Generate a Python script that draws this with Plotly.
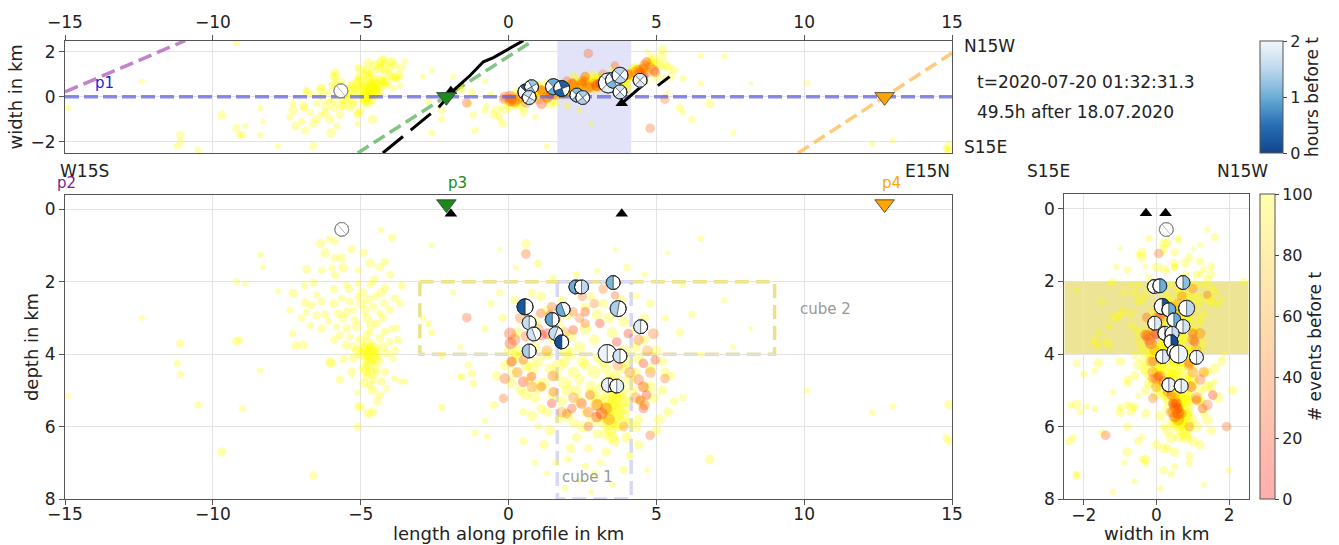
import numpy as np
import plotly.graph_objects as go

W_PX, H_PX = 1339, 545
FONT = "DejaVu Sans"

# ---------------- data ----------------
# western cluster: length along profile, depth, width, marker size
west_len = [-6.35,-6.06,-5.87,-5.87,-5.64,-6.83,-6.32,-5.98,-5.87,-5.59,
            -5.08,-4.68,-4.35,-4.18,-3.93,-4.31,-6.60,-5.47,-5.08,-4.68,
            -4.18,-7.28,-6.88,-6.66,-6.49,-6.32,-5.64,-5.36,-5.08,-4.85,
            -4.57,-4.35,-4.01,-3.67,-3.84,-7.39,-6.83,-6.49,-6.09,-5.76,
            -5.47,-5.25,-4.80,-4.46,-6.71,-6.32,-5.81,-5.47,-5.13,-4.68,
            -4.18,-3.78,-7.30,-5.70,-5.36,-5.02,-4.80,-4.35,-4.01,-3.73,
            -6.94,-5.25]
west_dep = [0.94,0.82,0.88,1.34,1.34,1.65,1.68,1.61,1.81,1.61,
            1.68,1.49,1.59,1.45,0.78,0.57,2.02,2.09,2.04,2.07,
            2.17,2.32,2.57,2.64,2.37,2.55,2.46,2.55,2.41,2.78,
            2.69,2.87,2.78,2.60,2.46,2.78,2.83,2.92,3.09,2.87,
            2.83,2.78,3.01,3.15,3.20,3.29,3.24,3.29,3.24,3.38,
            3.38,3.27,3.43,3.47,3.52,3.61,3.47,3.56,3.66,3.61,
            3.75,3.80]
west_wid = [0.3,-0.2,0.6,0.9,-0.4,0.2,-0.8,0.5,1.1,0.0,
            1.3,0.8,1.5,1.2,1.6,1.4,-1.2,0.4,0.9,1.1,
            1.5,-0.6,-1.5,0.1,-0.3,0.4,0.7,-0.5,0.8,1.0,
            0.6,1.3,1.0,0.9,1.4,-0.9,0.3,-1.0,0.2,0.5,
            -0.1,0.6,0.9,1.2,-0.7,0.0,-1.3,0.3,0.6,1.0,
            1.1,0.8,-0.3,0.2,0.5,0.7,1.2,0.8,1.3,1.0,
            -0.4,0.4]
west_size = [8,6,6,7,8,7,6,6,7,8, 6,8,7,7,7,5,7,6,6,6,
             7,8,7,7,6,7,6,7,6,8, 7,6,7,6,7,6,6,7,6,7,
             7,6,8,7,6,7,6,7,8,6, 7,6,6,7,6,8,7,7,6,7, 8,7]

# western cluster, second batch
west2_len = [-5.9,-5.4,-4.95,-4.5,-6.2,-5.6,-5.2,-4.65,-4.25,-3.95,
             -5.9,-5.5,-5.1,-4.95,-4.75,-4.55,-4.4,-4.25,-4.7,-4.85,
             -5.3,-4.55,-4.3,-4.9,-4.6,-4.45,-5.7,-6.2,-5.3,-4.9,
             -4.55,-4.3,-4.0,-3.6,-6.9,-7.0,-5.9,-5.0,-4.75,-4.2]
west2_dep = [2.2,2.2,2.3,2.4,2.9,3.0,3.05,3.2,3.0,3.3,
             3.6,3.75,3.9,4.0,3.7,3.85,4.2,3.8,4.3,4.45,
             4.5,4.55,4.75,4.8,5.0,5.3,4.7,1.2,1.1,1.2,
             1.95,2.3,1.8,2.1,2.1,3.0,2.6,2.6,2.5,2.6]
west2_wid = [-0.2,0.1,0.6,0.8,-0.7,-0.1,0.3,0.5,0.7,0.9,
             -0.5,0.1,0.3,0.2,0.4,0.6,0.5,0.7,0.1,0.0,
             -0.3,0.4,0.5,-0.1,0.1,0.3,-0.8,-0.4,0.2,0.5,
             1.4,1.6,1.5,1.3,-0.5,-1.1,0.9,1.2,1.5,1.7]
west2_size = [7,7,8,7,7,8,7,8,7,6, 7,8,9,10,10,10,9,8,10,9,
              8,8,7,8,8,7,7,8,7,7, 8,8,7,7,6,6,8,8,8,7]

# western core and deeper part
wcore_len = [-4.80,-4.68,-4.57,-4.74,-4.63,-4.85,-4.52,-4.68,-4.46,-4.91,
             -4.63,-4.80,-6.04,-5.59,-5.25,-4.12,-3.90,-3.84,-4.91,-4.68,
             -4.46,-4.18,-4.80,-4.57,-4.68,-4.12,-4.35,-5.08,-4.74,-3.84,-3.67]
wcore_dep = [3.82,3.89,3.94,4.03,4.07,3.96,4.12,4.21,4.01,3.86,
             3.80,4.16,4.21,4.14,4.10,3.98,4.12,3.89,4.39,4.49,
             4.44,4.49,4.62,4.72,4.85,4.95,5.13,5.45,5.64,4.67,4.76]
wcore_wid = [0.1,0.3,0.5,0.0,0.4,-0.2,0.2,0.6,0.1,0.4,
             -0.1,0.2,-1.0,-0.4,-0.2,0.7,0.4,0.9,-0.1,0.1,
             0.4,0.6,-0.2,0.3,0.0,0.5,0.2,-0.7,-0.3,0.8,0.5]
wcore_size = [9,9,9,9,9,9,9,9,9,9, 9,9,8,7,8,8,6,7,8,9,
              7,7,7,6,7,6,7,7,8,6,5]

# scattered far events
far_len = [-11.1,-11.2,-11.1,-9.2,-9.1,-10.5,-9.0,-9.7,-6.6,-8.4,
           -7.2,-6.0,-5.1,-5.0,-4.6,-5.1,-14.9,-12.4,-9.2,-8.9,
           -7.8,-8.3,-8.4,-3.5,-2.26,-2.26,-1.64,-1.36,-1.24,-1.19,
           -1.13,-0.79,-0.74,-1.58,-2.60,-1.87,-2.71,-1.64,12.3,13.0,
           14.9,14.8,14.9,10.1,6.8,5.9,6.5]
far_dep = [3.7,4.25,4.55,3.65,3.6,5.4,5.5,6.7,7.35,4.45,
           3.75,4.25,5.05,5.45,5.6,6.0,5.15,3.0,2.0,2.05,
           2.25,1.6,1.25,4.75,4.03,5.47,3.80,4.30,4.53,4.81,
           6.17,5.84,6.28,4.62,0.99,2.28,3.15,4.62,5.6,5.45,
           5.4,6.3,6.4,5.0,6.9,5.2,4.0]
far_wid = [-1.7,-2.2,-2.0,-1.4,-1.7,-2.37,-1.7,-0.81,-2.2,-1.7,
           -1.3,-1.6,-1.2,-0.6,-1.0,-0.8,-0.5,0.67,2.4,-1.3,
           -2.2,-1.1,-0.5,1.6,-0.6,-1.0,0.5,-0.3,0.2,-0.8,
           -1.5,0.7,-0.4,0.3,1.2,0.9,-0.2,0.4,-2.1,-1.93,
           -2.2,-2.3,-2.4,0.6,-0.3,0.82,1.85]
far_size = [7,6,6,7,6,6,6,8,7,5, 7,8,5,7,8,7,5,5,6,5,
            5,5,5,5,6,6,5,6,7,6, 6,5,5,6,5,5,6,5,5,5,
            8,6,7,5,8,6,5]

# central swarm (older events, # events before t >= 100)
cen_len = [0.59,0.25,1.0,1.5,2.3,3.0,3.6,4.0,4.6,5.4,
           6.5,-0.3,5.9,-0.3,-0.6,-0.2,0.2,0.3,0.8,1.8,
           2.2,2.8,3.2,3.4,2.9,2.4,3.9,4.3,4.8,5.3,
           5.8,6.2,7.3,7.6,8.2,-0.8,-2.6,-2.9,1.9,4.3,
           4.6,5.0,-0.1,0.2,0.6,1.0,1.4,1.9,2.2,2.6,
           3.0,3.3,3.6,3.9,4.3,4.8,5.2,5.5,0.4,0.9,
           1.3,1.8,2.3,2.6,3.0,3.2,3.4,3.5,3.6,3.7,
           3.4,3.5,3.8,3.3,3.6,3.7,3.9,3.45,3.7,3.2,
           4.2,4.4,4.9,5.2,5.1,0.5,1.0,2.3,2.7,3.0,
           3.6,4.0,4.4,2.0,2.6,3.1,3.9,2.4,3.5,1.9,
           0.9,4.7,1.3,2.8,0.7,1.2,1.6,1.1,1.7,2.0,
           2.4,2.8,2.9,2.2,0.2,0.9,1.5,4.6,4.1,5.6]
cen_dep = [0.95,1.6,1.5,1.9,1.8,1.7,1.1,1.6,1.8,1.2,
           0.8,1.1,2.1,2.3,2.6,3.0,2.5,3.9,2.3,2.5,
           2.1,2.4,2.6,3.0,3.6,3.8,3.9,2.4,2.6,3.0,
           3.4,2.9,2.5,3.8,3.3,3.3,3.4,3.0,3.9,3.8,
           3.6,3.9,4.3,4.5,4.3,4.2,4.4,4.2,4.5,4.3,
           4.1,4.4,4.6,4.4,4.5,4.4,4.2,4.6,5.0,5.2,
           5.6,5.3,5.0,5.6,5.2,4.9,5.1,5.4,5.2,5.6,
           5.7,5.9,5.3,5.5,5.0,4.8,5.5,6.1,6.0,5.9,
           5.0,5.8,5.2,5.0,5.8,5.6,6.0,6.3,6.6,6.2,
           6.4,6.3,6.5,6.9,7.1,7.0,7.2,7.5,7.6,7.7,
           7.0,7.2,7.3,7.8,4.7,4.8,4.6,5.5,5.8,5.0,
           4.7,4.9,5.4,5.9,4.0,3.8,3.6,4.9,5.9,5.3]
cen_wid = [0.2,-0.3,0.5,-0.2,0.8,0.3,1.0,0.5,1.2,0.2,
           0.6,-1.0,-0.7,-0.9,0.1,-1.2,-0.4,0.2,0.6,0.3,
           0.9,1.0,0.5,0.8,0.4,0.3,0.9,1.2,1.5,0.8,
           -0.5,-1.0,1.8,-1.6,0.6,-0.6,-1.6,0.9,0.1,1.2,
           0.7,0.9,-0.5,0.0,0.2,0.5,-0.3,0.5,0.4,0.8,
           0.9,0.7,0.5,1.0,1.3,1.6,1.8,0.9,-0.3,0.3,
           0.6,0.5,0.6,0.9,0.6,0.8,0.5,0.7,0.9,0.6,
           0.8,0.7,0.8,0.6,0.6,1.0,0.5,0.7,0.9,0.5,
           1.2,1.0,1.7,2.1,1.4,-0.7,0.2,0.6,0.3,0.8,
           1.0,0.4,1.2,-0.4,0.5,0.9,0.2,-0.6,1.3,0.1,
           -0.9,2.0,-2.2,-1.2,0.1,0.2,0.4,0.3,0.6,0.4,
           0.5,0.7,0.6,0.4,-0.2,0.1,0.2,1.4,0.9,1.2]
cen_size = [8,5,7,6,6,5,4,6,5,4, 5,4,5,6,6,7,7,9,7,7,
            8,7,8,9,9,10,9,6,7,6, 7,6,5,5,4,6,6,5,10,9,
            8,9,9,9,10,9,9,9,10,9, 8,9,10,9,8,9,8,7,8,9,
            8,9,9,8,10,10,11,11,11,11, 11,10,11,10,10,10,10,10,9,9,
            9,8,9,8,9,7,6,8,7,8, 9,9,8,6,6,6,7,5,5,5,
            5,5,5,5,9,10,9,8,8,10, 9,10,9,8,8,9,8,9,8,7]

# central swarm, second batch
cen2_len = [0.3,0.8,1.3,1.7,2.1,2.5,2.9,3.2,4.0,4.4,
            0.1,0.6,1.0,1.5,1.9,2.4,2.8,3.1,3.4,3.8,
            4.1,4.5,0.8,1.4,2.0,2.5,2.9,3.3,3.6,3.8,
            3.5,3.3,3.6,3.4,3.7,3.55,3.9,3.2,4.0,3.5,
            4.3,1.2,2.1,3.3,4.1,2.9,1.6,0.5,5.0,5.4,
            0.3,0.9,1.3,1.7,2.1,2.6,3.0,3.5,3.9,4.3,
            4.6,2.0,1.1,2.6,3.8,4.8,5.3,0.0,-0.4,-0.5]
cen2_dep = [4.1,4.4,4.0,4.3,4.0,4.2,4.5,4.2,4.2,4.1,
            4.8,5.1,4.9,5.1,4.8,5.3,5.1,5.4,4.7,5.0,
            4.7,5.3,5.7,6.1,5.7,6.0,5.8,6.2,5.7,5.9,
            5.5,5.3,5.35,5.9,5.1,4.9,5.7,5.7,5.3,6.3,
            6.0,6.5,6.6,6.7,6.8,7.3,7.0,6.4,6.1,5.6,
            3.4,3.1,2.8,3.2,3.5,3.3,2.9,3.4,3.1,3.3,
            3.0,2.9,2.4,2.7,2.5,4.9,4.5,3.9,4.6,5.4]
cen2_wid = [-0.1,0.1,0.0,0.3,0.2,0.5,0.6,0.7,0.9,1.0,
            -0.2,0.0,0.2,0.3,0.4,0.5,0.6,0.6,0.8,0.7,
            1.0,1.2,0.1,0.3,0.5,0.6,0.7,0.8,0.7,0.6,
            0.8,0.7,0.6,0.7,0.8,0.9,0.8,0.6,0.9,0.8,
            1.1,0.0,0.2,0.5,0.9,0.4,-0.3,-0.5,1.5,1.3,
            -0.3,0.0,0.2,0.1,0.3,0.5,0.6,0.7,0.9,1.0,
            1.2,0.4,0.3,0.7,1.1,1.5,1.4,-0.4,-0.6,-0.8]
cen2_size = [10,11,10,11,10,10,11,10,10,9, 9,10,11,10,11,10,11,12,11,12,
             10,10,9,9,10,10,11,10,12,12, 12,12,12,11,12,11,11,11,10,10,
             9,8,8,8,7,6,6,7,8,8, 9,9,9,9,10,10,9,9,9,8,
             8,9,8,8,8,9,8,8,8,7]

# recent events (few events before t -> red/orange)
red_len = [0.05,0.07,1.09,1.46,1.40,1.31,1.12,2.19,2.59,2.19,
           2.59,3.09,3.60,3.66,4.05,4.90,4.96,4.56,5.29,4.56,
           4.67,4.45,4.56,4.79,3.15,2.98,2.76,2.47,2.14,1.46,
           1.97,1.52,-0.12,-0.17,0.50,0.50,1.12,0.78,0.11,-1.41,
           0.59,2.70,
           0.4,0.2,1.0,1.6,1.9,2.4,2.9,4.4,4.7,4.8,
           4.4,4.6,4.3,3.3,3.0,2.7,3.4,2.2,1.8,0.8,
           0.3,0.1,1.5,3.7,4.1,3.9,2.5,3.2,1.3,0.6]
red_dep = [3.43,3.70,2.87,2.69,2.92,3.43,3.47,2.83,2.83,3.33,
           3.15,3.15,2.37,3.66,3.43,3.43,4.16,4.25,4.67,4.90,
           5.13,5.27,5.50,6.24,5.64,5.73,5.13,5.36,5.50,5.36,
           5.64,5.04,4.67,5.22,4.16,4.76,4.90,4.62,4.21,2.99,
           1.23,6.0,
           3.0,3.6,3.3,3.0,3.4,3.0,2.6,3.6,3.9,4.5,
           4.7,5.4,5.2,5.5,5.4,5.6,5.8,5.2,5.6,4.9,
           4.5,4.2,4.6,4.3,4.5,6.0,2.4,2.2,3.9,3.5]
red_wid = [0.0,-0.15,0.3,0.4,0.1,0.0,-0.3,0.6,0.9,0.2,
           0.7,0.6,1.4,1.05,1.0,1.2,1.1,0.9,-0.1,0.95,
           1.55,1.1,1.27,-1.4,0.6,0.5,0.4,0.55,0.6,0.45,
           0.7,0.3,0.0,-0.1,0.1,0.2,0.3,0.05,-0.1,-0.27,
           0.06,1.93,
           0.0,-0.2,-0.1,0.1,0.2,0.4,0.6,1.0,1.1,1.3,
           1.2,1.4,1.1,0.55,0.5,0.45,0.6,0.5,0.4,0.0,
           -0.1,-0.15,0.1,0.9,1.0,0.9,0.7,1.0,-0.05,-0.25]
red_cnt = [25,20,30,35,15,12,18,40,20,15, 40,15,35,12,15,40,20,15,40,15,
           12,15,20,35,8,12,30,15,20,15, 35,35,35,40,30,15,30,18,25,30,
           35,35,
           45,35,50,40,55,45,50,40,55,45, 35,40,50,30,25,35,45,50,55,50,
           45,55,40,50,45,50,40,45,55,35]
red_size = [10,10,8,8,8,9,9,8,8,8, 8,8,7,8,8,9,8,8,8,9,
            8,8,8,8,10,9,8,9,8,8, 8,8,9,8,8,9,8,8,8,8, 8,8,
            9,10,9,9,9,8,8,9,9,9, 9,9,9,10,10,9,10,9,9,9,
            9,9,9,9,9,8,8,8,9,9]

# focal mechanisms: map view (length, width, radius px, hours before t, rotation deg)
map_bb_len = [0.59,0.78,0.70,1.52,1.80,2.31,2.51,3.38,3.55,3.77,3.77,4.45,-5.67]
map_bb_wid = [0.22,0.45,-0.03,0.45,0.37,0.08,-0.03,0.62,0.74,0.96,0.22,0.74,0.27]
map_bb_r = [8,7,7,8,8,7,7,10,8,8,7,7,7]
map_bb_hours = [0.25,1.3,1.6,1.0,0.3,1.2,1.4,1.9,1.1,1.5,1.7,1.8,5]
map_bb_rot = [45,30,60,45,20,45,40,45,30,50,45,45,130]

# cross section (length, depth)
sec_bb_len = [2.28,2.47,3.54,0.56,1.85,3.71,1.48,0.70,0.86,1.60,1.80,4.47,0.70,3.34,3.77,3.38,3.66,-5.64]
sec_bb_dep = [2.14,2.14,2.02,2.69,2.76,2.74,3.04,3.13,3.44,3.43,3.66,3.24,3.91,3.98,4.05,4.85,4.88,0.55]
sec_bb_r = [7,7,7,8,7,8,7,7,7,7,7,7,7,9,7,7,7,7]
sec_bb_hours = [1.0,1.5,1.1,0.2,1.0,1.4,0.9,1.6,1.7,1.6,0.1,1.8,1.4,1.95,1.7,1.9,1.9,5]
sec_bb_rot = [180,0,180,180,200,170,180,180,200,160,180,180,180,180,180,180,0,130]

# side view (width, depth)
side_bb_wid = [-0.06,0.09,0.73,0.16,0.34,0.83,-0.05,0.48,0.73,0.23,0.43,0.40,0.17,0.48,0.61,1.10,0.34,0.68,0.27]
side_bb_dep = [2.14,2.12,2.03,2.69,2.78,2.74,3.15,3.06,3.24,3.43,3.43,3.66,4.07,3.93,4.00,4.09,4.85,4.88,0.57]
side_bb_r = [7,7,7,8,7,8,7,7,7,7,7,7,7,7,9,7,7,7,7]
side_bb_hours = [1.6,1.0,1.2,0.2,1.0,1.5,1.8,1.0,1.7,1.8,1.6,0.1,1.8,1.5,1.95,1.9,1.9,1.9,5]
side_bb_rot = [0,0,0,0,0,0,0,0,0,0,0,0,0,0,0,0,0,0,130]

# stations
sta_len = [-2.1, 12.72]
sta_wid = [0.0, 0.0]
sta_dep = [-0.15, -0.15]
sta_col = ["#1a8a1a", "#ffa500"]
sta_name = ["p3", "p4"]
bsta_len = [-1.95, 3.83]
bsta_wid = [0.25, -0.29]
bsta_dep = [0.12, 0.12]

# profile labels (length along profile where the label sits)
prof_name = ["p2", "p3", "p4"]
prof_len = [-14.95, -1.74, 12.95]
prof_col = ["rgb(130,30,140)", "rgb(20,140,20)", "rgb(255,165,0)"]

# profile lines in map view
p1_len = [-15, 15]; p1_wid = [0, 0]
p2_len = [-15, -10.94]; p2_wid = [0.22, 2.5]
p3_len = [-5.1, 0.83]; p3_wid = [-2.5, 2.5]
p4_len = [9.79, 15]; p4_wid = [-2.5, 1.95]
# fault traces
fa_len = [-4.25, -2.35]; fa_wid = [-2.5, -0.45]
fb_len = [-2.35, -1.85, -1.3, -0.85, -0.51, 0.5]; fb_wid = [-0.45, 0.3, 0.95, 1.56, 1.75, 2.5]
fc_len = [3.83, 4.67]; fc_wid = [-0.29, 0.67]
fd_len = [5.05, 5.45]; fd_wid = [0.5, 0.9]

# cubes
cube1_len = [1.65, 4.15]; cube1_dep = [2, 8]
cube2_len = [-3.0, 9.0]; cube2_dep = [2, 4]

# ---------------- layout geometry ----------------
MAP_BOX = (65, 952, 40.7, 153)
SEC_BOX = (65, 952, 195, 499)
SIDE_BOX = (1064.3, 1248.7, 194.3, 499.3)
MAP_XR, MAP_YR = [-15, 15], [-2.5, 2.5]
SEC_XR, DEP_R = [-15, 15], [8, -0.4]
SIDE_XR = [-2.54, 2.54]
SIZE_FACTOR = 1.2


def xdom(b):
    return [b[0] / W_PX, b[1] / W_PX]


def ydom(b):
    return [1 - b[3] / H_PX, 1 - b[2] / H_PX]


def scale(box, xr, yr):
    sx = (box[1] - box[0]) / (xr[1] - xr[0])
    sy = (box[3] - box[2]) / (yr[1] - yr[0])
    return sx, sy


HOURS_STOPS = [(0.0, (16, 70, 140)), (0.25, (40, 110, 180)), (0.5, (107, 174, 214)),
               (0.75, (190, 215, 236)), (1.0, (242, 247, 252))]
HOURS_SCALE = [[s, "rgb(%d,%d,%d)" % c] for s, c in HOURS_STOPS]


def hours_color(h):
    t = min(max(h / 2.0, 0), 1)
    for (s0, c0), (s1, c1) in zip(HOURS_STOPS[:-1], HOURS_STOPS[1:]):
        if t <= s1:
            f = (t - s0) / (s1 - s0)
            c = [c0[i] + f * (c1[i] - c0[i]) for i in range(3)]
            return "rgb(%d,%d,%d)" % tuple(c)
    return "rgb(%d,%d,%d)" % HOURS_STOPS[-1][1]


EV_ALPHA = 0.45
EV_SCALE = [[0, "rgba(255,0,0,%.2f)" % EV_ALPHA], [1, "rgba(255,255,0,%.2f)" % EV_ALPHA]]
CB_SCALE = [[0, "rgba(255,0,0,0.32)"], [1, "rgba(255,255,0,0.32)"]]

fig = go.Figure()

old_len = west_len + west2_len + wcore_len + far_len + cen_len + cen2_len
old_dep = west_dep + west2_dep + wcore_dep + far_dep + cen_dep + cen2_dep
old_wid = west_wid + west2_wid + wcore_wid + far_wid + cen_wid + cen2_wid
old_size = west_size + west2_size + wcore_size + far_size + cen_size + cen2_size
ev_len = old_len + red_len
ev_dep = old_dep + red_dep
ev_wid = old_wid + red_wid
ev_size = [s * SIZE_FACTOR for s in old_size + red_size]
ev_cnt = [100] * len(old_len) + red_cnt


def add_line(x, y, xa, ya, color, width, dash=None):
    fig.add_trace(go.Scatter(x=x, y=y, xaxis=xa, yaxis=ya, mode="lines",
                             line=dict(color=color, width=width, dash=dash),
                             hoverinfo="skip", showlegend=False))


add_line(p2_len, p2_wid, "x", "y", "rgba(180,100,190,0.8)", 3.5, "14px,6px")
add_line(p3_len, p3_wid, "x", "y", "rgba(90,175,90,0.75)", 3.5, "13px,6px")
add_line(p4_len, p4_wid, "x", "y", "rgba(255,190,90,0.8)", 3.5, "13px,6px")

marker_ev = dict(color=ev_cnt, cmin=0, cmax=100, colorscale=EV_SCALE, line=dict(width=0))
fig.add_trace(go.Scatter(x=ev_len, y=ev_wid, xaxis="x", yaxis="y", mode="markers",
                         marker=dict(size=ev_size, **marker_ev), hoverinfo="skip", showlegend=False))
add_line(p1_len, p1_wid, "x", "y", "rgba(100,100,230,0.75)", 3.5, "14px,5px")
add_line(fa_len, fa_wid, "x", "y", "black", 3, "26px,10px")
add_line(fb_len, fb_wid, "x", "y", "black", 3)
add_line(fc_len, fc_wid, "x", "y", "black", 3)
add_line(fd_len, fd_wid, "x", "y", "black", 3)

fig.add_trace(go.Scatter(x=ev_len, y=ev_dep, xaxis="x2", yaxis="y2", mode="markers",
                         marker=dict(size=ev_size, **marker_ev), hoverinfo="skip", showlegend=False))
fig.add_trace(go.Scatter(x=ev_wid, y=ev_dep, xaxis="x3", yaxis="y3", mode="markers",
                         marker=dict(size=ev_size, **marker_ev), hoverinfo="skip", showlegend=False))

fig.add_trace(go.Scatter(x=ev_wid, y=ev_dep, xaxis="x3", yaxis="y3", mode="markers",
                         marker=dict(size=1, opacity=0, color=ev_cnt, cmin=0, cmax=100,
                                     colorscale=CB_SCALE, showscale=True,
                                     colorbar=dict(x=1260 / W_PX, xanchor="left", xref="paper",
                                                   y=1 - 499 / H_PX, yanchor="bottom", yref="paper",
                                                   len=(499 - 194) / H_PX, lenmode="fraction",
                                                   thickness=15, xpad=0, ypad=0,
                                                   outlinewidth=1, outlinecolor="#555",
                                                   tickvals=[0, 20, 40, 60, 80, 100], ticks="outside",
                                                   ticklen=4, tickfont=dict(size=16, family=FONT, color="#222"),
                                                   title=dict(text="# events before t", side="right",
                                                              font=dict(size=17, family=FONT, color="#222")))),
                         hoverinfo="skip", showlegend=False))

fig.add_trace(go.Scatter(x=map_bb_len, y=map_bb_wid, xaxis="x", yaxis="y", mode="markers",
                         marker=dict(size=1, opacity=0, color=map_bb_hours, cmin=0, cmax=2,
                                     colorscale=HOURS_SCALE, showscale=True,
                                     colorbar=dict(x=1260 / W_PX, xanchor="left", xref="paper",
                                                   y=1 - 153 / H_PX, yanchor="bottom", yref="paper",
                                                   len=(153 - 40.7) / H_PX, lenmode="fraction",
                                                   thickness=23, xpad=0, ypad=0,
                                                   outlinewidth=1, outlinecolor="#555",
                                                   tickvals=[0, 1, 2], ticks="outside", ticklen=4,
                                                   tickfont=dict(size=16, family=FONT, color="#222"),
                                                   title=dict(text="hours before t", side="right",
                                                              font=dict(size=17, family=FONT, color="#222")))),
                         hoverinfo="skip", showlegend=False))


def add_ball(cx, cy, r, h, rot, sx, sy, xa, ya, style):
    t = np.linspace(0, 2 * np.pi, 49)
    grey = h > 2
    edge = "#888" if grey else "#222"

    def pt(a):
        return cx + r * np.cos(a) / sx, cy + r * np.sin(a) / sy

    X, Y = pt(t)
    fig.add_trace(go.Scatter(x=X, y=Y, xaxis=xa, yaxis=ya, mode="lines", fill="toself",
                             fillcolor="white", line=dict(color=edge, width=1),
                             hoverinfo="skip", showlegend=False))
    if not grey:
        col = hours_color(h)
        sectors = [(rot, rot + 90), (rot + 180, rot + 270)] if style == "quad" else [(rot - 90, rot + 90)]
        xs, ys = [], []
        for a0, a1 in sectors:
            a = np.radians(np.linspace(a0, a1, 20))
            px, py = pt(a)
            xs += [cx] + list(px) + [cx, None]
            ys += [cy] + list(py) + [cy, None]
        fig.add_trace(go.Scatter(x=xs, y=ys, xaxis=xa, yaxis=ya, mode="lines", fill="toself",
                                 fillcolor=col, line=dict(color=col, width=0.5),
                                 hoverinfo="skip", showlegend=False))
    angs = [rot + 90] if style != "quad" else [rot, rot + 90]
    if grey:
        angs = [rot]
    lx, ly = [], []
    for ag in angs:
        a = np.radians(ag)
        p0 = pt(a)
        p1 = pt(a + np.pi)
        lx += [p0[0], p1[0], None]
        ly += [p0[1], p1[1], None]
    fig.add_trace(go.Scatter(x=lx, y=ly, xaxis=xa, yaxis=ya, mode="lines",
                             line=dict(color=edge, width=0.6), hoverinfo="skip", showlegend=False))
    fig.add_trace(go.Scatter(x=X, y=Y, xaxis=xa, yaxis=ya, mode="lines",
                             line=dict(color=edge, width=1), hoverinfo="skip", showlegend=False))


msx, msy = scale(MAP_BOX, MAP_XR, MAP_YR)
ssx, ssy = scale(SEC_BOX, SEC_XR, [DEP_R[1], DEP_R[0]])
dsx, dsy = scale(SIDE_BOX, SIDE_XR, [DEP_R[1], DEP_R[0]])

for i in range(len(map_bb_len)):
    add_ball(map_bb_len[i], map_bb_wid[i], map_bb_r[i], map_bb_hours[i], map_bb_rot[i],
             msx, msy, "x", "y", "quad")
for i in range(len(sec_bb_len)):
    add_ball(sec_bb_len[i], sec_bb_dep[i], sec_bb_r[i], sec_bb_hours[i], sec_bb_rot[i],
             ssx, -ssy, "x2", "y2", "half")
for i in range(len(side_bb_wid)):
    add_ball(side_bb_wid[i], side_bb_dep[i], side_bb_r[i], side_bb_hours[i], side_bb_rot[i],
             dsx, -dsy, "x3", "y3", "half")

tri_black = dict(symbol="triangle-up", size=11, color="black", line=dict(width=0))
fig.add_trace(go.Scatter(x=bsta_len, y=bsta_wid, xaxis="x", yaxis="y", mode="markers",
                         marker=tri_black, hoverinfo="skip", showlegend=False))
fig.add_trace(go.Scatter(x=bsta_len, y=bsta_dep, xaxis="x2", yaxis="y2", mode="markers",
                         marker=tri_black, hoverinfo="skip", showlegend=False))
fig.add_trace(go.Scatter(x=bsta_wid, y=bsta_dep, xaxis="x3", yaxis="y3", mode="markers",
                         marker=tri_black, hoverinfo="skip", showlegend=False))
for xa, ya, ys in [("x", "y", sta_wid), ("x2", "y2", sta_dep)]:
    fig.add_trace(go.Scatter(x=sta_len, y=ys, xaxis=xa, yaxis=ya, mode="markers",
                             marker=dict(symbol="triangle-down", size=17, color=sta_col,
                                         line=dict(color="#333", width=0.8)),
                             cliponaxis=False, hoverinfo="skip", showlegend=False))

shapes = [
    dict(type="rect", xref="x", yref="y", x0=cube1_len[0], x1=cube1_len[1], y0=MAP_YR[0], y1=MAP_YR[1],
         fillcolor="rgba(190,190,240,0.45)", line=dict(width=0), layer="below"),
    dict(type="rect", xref="x2", yref="y2", x0=cube2_len[0], x1=cube2_len[1], y0=cube2_dep[0], y1=cube2_dep[1],
         line=dict(color="rgba(230,215,100,0.75)", width=3.5, dash="14px,7px"), layer="below"),
    dict(type="rect", xref="x2", yref="y2", x0=cube1_len[0], x1=cube1_len[1], y0=cube1_dep[0], y1=cube1_dep[1],
         line=dict(color="rgba(200,200,240,0.7)", width=3.5, dash="14px,7px"), layer="below"),
    dict(type="rect", xref="x3", yref="y3", x0=SIDE_XR[0], x1=SIDE_XR[1], y0=cube2_dep[0], y1=cube2_dep[1],
         fillcolor="rgba(225,210,80,0.6)", line=dict(width=0), layer="below"),
]


def ann(text, x, y, xref="paper", yref="paper", size=17, color="#222", xanchor="left", yanchor="middle"):
    return dict(text=text, x=x, y=y, xref=xref, yref=yref, showarrow=False,
                font=dict(size=size, family=FONT, color=color), xanchor=xanchor, yanchor=yanchor)


def sec_x_paper(L):
    return (SEC_BOX[0] + (L - SEC_XR[0]) * ssx) / W_PX


annotations = [
    ann("N15W", 962 / W_PX, 1 - 46 / H_PX),
    ann("S15E", 962 / W_PX, 1 - 147 / H_PX),
    ann("t=2020-07-20 01:32:31.3", 975 / W_PX, 1 - 82 / H_PX),
    ann("49.5h after 18.07.2020", 975 / W_PX, 1 - 112 / H_PX),
    ann("W15S", 58 / W_PX, 1 - 171 / H_PX),
    ann("E15N", 952 / W_PX, 1 - 171 / H_PX, xanchor="right"),
    ann("S15E", 1025 / W_PX, 1 - 171 / H_PX),
    ann("N15W", 1270 / W_PX, 1 - 171 / H_PX, xanchor="right"),
    ann("p1", -13.65, 0.6, "x", "y", size=15, color="rgb(30,30,220)", xanchor="center"),
    ann("cube 2", 9.8, 2.75, "x2", "y2", size=15, color="#999"),
    ann("cube 1", 1.75, 7.4, "x2", "y2", size=15, color="#999"),
    ann("length along profile in km", (SEC_BOX[0] + SEC_BOX[1]) / 2 / W_PX, 1 - 533 / H_PX,
        size=18, xanchor="center"),
    ann("width in km", (SIDE_BOX[0] + SIDE_BOX[1]) / 2 / W_PX, 1 - 533 / H_PX,
        size=18, xanchor="center"),
]
for name, L, col in zip(prof_name, prof_len, prof_col):
    annotations.append(ann(name, sec_x_paper(L), 1 - 183 / H_PX, size=15, color=col, xanchor="center"))

axis_common = dict(showgrid=True, gridcolor="#e3e3e3", gridwidth=1, zeroline=False,
                   showline=True, mirror=True, linecolor="#555", linewidth=1,
                   ticks="outside", ticklen=5, tickcolor="#555", automargin=False,
                   tickfont=dict(size=17, family=FONT, color="#222"))
title_font = dict(size=18, family=FONT, color="#222")

fig.update_layout(
    width=W_PX, height=H_PX, margin=dict(l=0, r=0, t=0, b=0),
    paper_bgcolor="white", plot_bgcolor="white", showlegend=False,
    font=dict(family=FONT, color="#222"),
    shapes=shapes, annotations=annotations,
    xaxis=dict(domain=xdom(MAP_BOX), range=MAP_XR, side="top", anchor="y",
               tickvals=[-15, -10, -5, 0, 5, 10, 15], **axis_common),
    yaxis=dict(domain=ydom(MAP_BOX), range=MAP_YR, anchor="x", tickvals=[-2, 0, 2],
               title=dict(text="width in km", font=title_font, standoff=3), **axis_common),
    xaxis2=dict(domain=xdom(SEC_BOX), range=SEC_XR, anchor="y2",
                tickvals=[-15, -10, -5, 0, 5, 10, 15], **axis_common),
    yaxis2=dict(domain=ydom(SEC_BOX), range=DEP_R, anchor="x2", tickvals=[0, 2, 4, 6, 8],
                title=dict(text="depth in km", font=title_font, standoff=1), **axis_common),
    xaxis3=dict(domain=xdom(SIDE_BOX), range=SIDE_XR, anchor="y3", tickvals=[-2, 0, 2],
                **axis_common),
    yaxis3=dict(domain=ydom(SIDE_BOX), range=DEP_R, anchor="x3", tickvals=[0, 2, 4, 6, 8],
                **axis_common),
)

try:
    fig.update_layout(xaxis2_ticklabelstandoff=-5, xaxis3_ticklabelstandoff=-5)
except Exception:
    pass

fig.write_html("out.html", config={"displayModeBar": False},
               post_script="document.body.style.margin='0';")
